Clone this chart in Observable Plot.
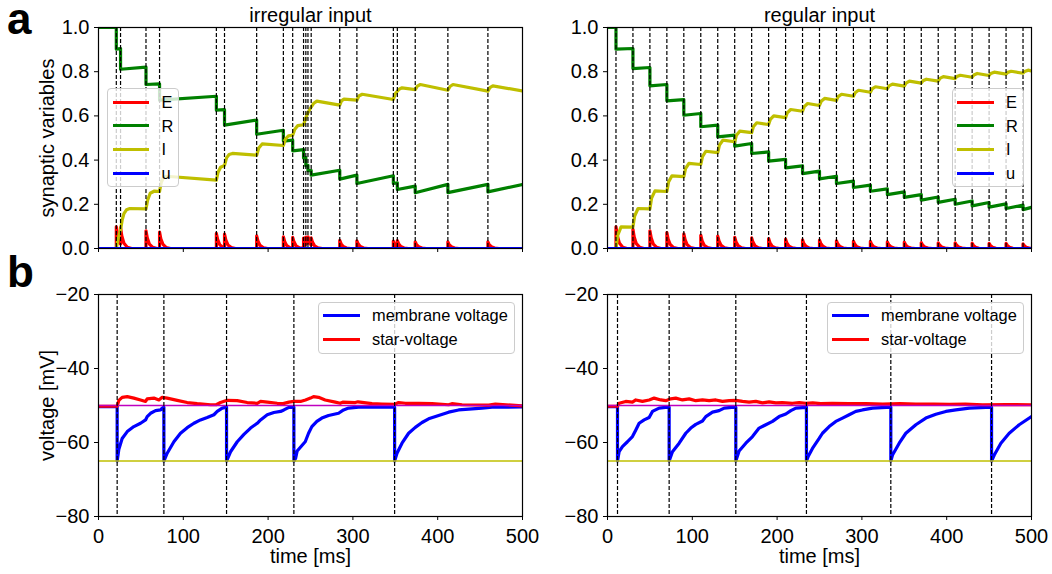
<!DOCTYPE html>
<html><head><meta charset="utf-8">
<script src="https://cdn.jsdelivr.net/npm/d3@7"></script>
<script src="https://cdn.jsdelivr.net/npm/@observablehq/plot@0.6"></script>
<style>
body{margin:0;background:#fff;font-family:"Liberation Sans",Arial,Helvetica,sans-serif;}
#fig{position:relative;width:1052px;height:574px;overflow:hidden;background:#fff;}
.legend{position:absolute;background:rgba(255,255,255,0.8);border:1px solid #cccccc;border-radius:4px;box-sizing:border-box;}
.legend .ln{position:absolute;height:3px;}
.legend .lt{position:absolute;font-size:16.4px;line-height:16.4px;white-space:nowrap;color:#000;}
.letter{position:absolute;font-weight:bold;font-size:44px;line-height:36px;color:#000;}
</style></head>
<body><div id="fig"></div>
<script>
// ---------------- data ----------------
const xTicks = [0, 100, 200, 300, 400, 500];
const synTicks = [0, 0.2, 0.4, 0.6, 0.8, 1.0];
const voltTicks = [-80, -60, -40, -20];
const panelTitles = ["irregular input", "regular input"];
const synLabels = ["E", "R", "I", "u"];
const voltLabels = ["membrane voltage", "star-voltage"];
const vThreshold = [-50];
const vReset = [-65];

// input spike times (ms)
const irrSpikes = [21, 26, 56, 72, 139, 148.6, 186.5, 218, 229, 241.8, 244.5, 247, 250.8, 284.5, 304.7, 347.7, 352.4, 373.5, 412, 459.2];
const regSpikes = [10, 30, 50, 70, 90, 110, 130, 150, 170, 190, 210, 230, 250, 270, 290, 310, 330, 350, 370, 390, 410, 430, 450, 470, 490];
// output spike times (ms)
const irrOut = [22, 77.1, 151, 230.4, 349.2];
const regOut = [11.8, 72.7, 151.3, 234.6, 334.1, 452.9];

// synaptic variables, irregular input
const irrE = [
[0,0],
[21,0],[21,.098],[22.5,.059],[25,.025],[26,.02],
[26,.095],[27.5,.057],[30,.024],[34,.006],[39,0],
[56,0],[56,.080],[57.5,.048],[60,.020],[64,.005],[69,0],
[72,0],[72,.074],[73.5,.044],[76,.019],[80,.004],[85,0],
[139,0],[139,.068],[140.5,.041],[143,.017],[147,.004],[148.6,.002],
[148.6,.065],[150.1,.039],[152.6,.016],[156.6,.004],[161.6,0],
[186.5,0],[186.5,.057],[188,.034],[190.5,.014],[194.5,.003],[199.5,0],
[218,0],[218,.053],[219.5,.032],[222,.013],[226,.003],[229,.001],
[229,.050],[230.5,.030],[233,.012],[237,.003],[241.8,.001],
[241.8,.047],[243.3,.028],[244.5,.019],
[244.5,.052],[246,.031],[247,.024],
[247,.053],[248.5,.032],[250.8,.015],
[250.8,.048],[252.3,.029],[254.8,.012],[258.8,.003],[263.8,0],
[284.5,0],[284.5,.037],[286,.022],[288.5,.009],[292.5,.002],[297.5,0],
[304.7,0],[304.7,.035],[306.2,.021],[308.7,.009],[312.7,.002],[317.7,0],
[347.7,0],[347.7,.034],[349.2,.020],[351.7,.009],[352.4,.007],
[352.4,.036],[353.9,.022],[356.4,.009],[360.4,.002],[365.4,0],
[373.5,0],[373.5,.030],[375,.018],[377.5,.008],[381.5,.002],[386.5,0],
[412,0],[412,.030],[413.5,.018],[416,.008],[420,.002],[425,0],
[459.2,0],[459.2,.030],[460.7,.018],[463.2,.008],[467.2,.002],[472.2,0],
[500,0]
];
const irrR = [[0,1],[21,1],[21,0.902],[26,0.905],[26,0.811],[56,0.821],[56,0.742],[72,0.745],[72,0.671],[139,0.689],[139,0.626],[148.6,0.628],[148.6,0.558],[186.5,0.581],[186.5,0.517],[218,0.535],[218,0.486],[229,0.49],[229,0.442],[241.8,0.447],[241.8,0.41],[244.5,0.411],[244.5,0.375],[247,0.376],[247,0.352],[250.8,0.353],[250.8,0.332],[284.5,0.354],[284.5,0.314],[304.7,0.332],[304.7,0.294],[347.7,0.329],[347.7,0.294],[352.4,0.297],[352.4,0.267],[373.5,0.282],[373.5,0.252],[412,0.29],[412,0.253],[459.2,0.29],[459.2,0.256],[500,0.29]];
const irrI = [[0,0],[21,0],[23,0.04],[24.5,0.065],[26,0.085],[28,0.13],[30,0.158],[33,0.175],[37,0.181],[56,0.179],[58,0.22],[61,0.25],[66,0.26],[72,0.258],[74,0.30],[76.5,0.32],[80,0.327],[139,0.309],[141,0.345],[144,0.368],[148.6,0.376],[151,0.41],[154,0.425],[158,0.43],[186.5,0.422],[189,0.455],[193,0.473],[218,0.466],[220.5,0.495],[224,0.51],[229,0.512],[231.5,0.54],[235,0.556],[241.8,0.56],[244.5,0.59],[247,0.615],[250.8,0.64],[253.5,0.656],[257.5,0.667],[284.5,0.649],[286.5,0.668],[289.5,0.676],[304.7,0.671],[307,0.69],[311,0.698],[347.7,0.674],[350,0.70],[352.4,0.712],[355,0.722],[358,0.727],[373.5,0.719],[376,0.735],[379.5,0.742],[412,0.716],[414.5,0.733],[418,0.742],[459.2,0.712],[461.5,0.728],[465,0.736],[500,0.713]];
const irrU = [[0,0],[500,0]];

// synaptic variables, regular input
const regE = [
[0,0],
[10,0],[10,.098],[11.5,.059],[14,.025],[18,.006],[23,0],
[30,0],[30,.087],[31.5,.052],[34,.022],[38,.005],[43,0],
[50,0],[50,.080],[51.5,.048],[54,.020],[58,.005],[63,0],
[70,0],[70,.072],[71.5,.043],[74,.018],[78,.004],[83,0],
[90,0],[90,.066],[91.5,.040],[94,.017],[98,.004],[103,0],
[110,0],[110,.060],[111.5,.036],[114,.015],[118,.004],[123,0],
[130,0],[130,.056],[131.5,.034],[134,.014],[138,.003],[143,0],
[150,0],[150,.051],[151.5,.031],[154,.013],[158,.003],[163,0],
[170,0],[170,.048],[171.5,.029],[174,.012],[178,.003],[183,0],
[190,0],[190,.045],[191.5,.027],[194,.011],[198,.003],[203,0],
[210,0],[210,.042],[211.5,.025],[214,.011],[218,.003],[223,0],
[230,0],[230,.039],[231.5,.023],[234,.010],[238,.002],[243,0],
[250,0],[250,.038],[251.5,.023],[254,.010],[258,.002],[263,0],
[270,0],[270,.035],[271.5,.021],[274,.009],[278,.002],[283,0],
[290,0],[290,.033],[291.5,.020],[294,.008],[298,.002],[303,0],
[310,0],[310,.032],[311.5,.019],[314,.008],[318,.002],[323,0],
[330,0],[330,.030],[331.5,.018],[334,.008],[338,.002],[343,0],
[350,0],[350,.029],[351.5,.017],[354,.007],[358,.002],[363,0],
[370,0],[370,.027],[371.5,.016],[374,.007],[378,.002],[383,0],
[390,0],[390,.026],[391.5,.016],[394,.007],[398,.002],[403,0],
[410,0],[410,.026],[411.5,.016],[414,.007],[418,.002],[423,0],
[430,0],[430,.024],[431.5,.014],[434,.006],[438,.001],[443,0],
[450,0],[450,.023],[451.5,.014],[454,.006],[458,.001],[463,0],
[470,0],[470,.023],[471.5,.014],[474,.006],[478,.001],[483,0],
[490,0],[490,.021],[491.5,.013],[494,.005],[498,.001],[500,0]
];
const regR = [[0,1],[10,1],[10,0.902],[30,0.905],[30,0.814],[50,0.819],[50,0.736],[70,0.742],[70,0.668],[90,0.674],[90,0.603],[110,0.611],[110,0.551],[130,0.558],[130,0.505],[150,0.513],[150,0.463],[170,0.475],[170,0.43],[190,0.437],[190,0.395],[210,0.403],[210,0.365],[230,0.374],[230,0.339],[250,0.35],[250,0.315],[270,0.327],[270,0.294],[290,0.305],[290,0.276],[310,0.287],[310,0.259],[330,0.27],[330,0.244],[350,0.256],[350,0.231],[370,0.244],[370,0.219],[390,0.233],[390,0.209],[410,0.223],[410,0.2],[430,0.215],[430,0.193],[450,0.208],[450,0.187],[470,0.202],[470,0.181],[490,0.196],[490,0.176],[500,0.186]];
const regI = [[0,0],[10,0],[12,0.059],[16,0.098],[30,0.097],[32,0.147],[36,0.181],[50,0.179],[52,0.228],[56,0.261],[70,0.258],[72,0.301],[76,0.329],[90,0.325],[92,0.361],[96,0.385],[110,0.38],[112,0.416],[116,0.44],[130,0.434],[132,0.468],[136,0.49],[150,0.483],[152,0.512],[156,0.531],[170,0.524],[172,0.551],[176,0.569],[190,0.561],[192,0.584],[196,0.6],[210,0.592],[212,0.614],[216,0.629],[230,0.621],[232,0.642],[236,0.656],[250,0.647],[252,0.666],[256,0.679],[270,0.67],[272,0.687],[276,0.698],[290,0.689],[292,0.705],[296,0.716],[310,0.707],[312,0.722],[316,0.732],[330,0.723],[332,0.736],[336,0.744],[350,0.735],[352,0.748],[356,0.757],[370,0.748],[372,0.759],[376,0.766],[390,0.757],[392,0.77],[396,0.778],[410,0.769],[412,0.778],[416,0.784],[430,0.775],[432,0.785],[436,0.792],[450,0.783],[452,0.792],[456,0.798],[470,0.789],[472,0.797],[476,0.802],[490,0.793],[492,0.801],[496,0.807],[500,0.803]];
const regU = [[0,0],[500,0]];

// voltages (mV)
const irrV = [[0,-50.3],[22,-50.3],[22,-65],[24,-61.8],[27.9,-58.9],[33.9,-57.05],[41.7,-55.7],[49.6,-54.8],[55.5,-53.9],[57.4,-53.0],[61.4,-52.1],[67.3,-51.4],[73.2,-51.2],[75.1,-50.7],[77.1,-50.45],
[77.1,-65],[81,-62.9],[88.9,-59.8],[96.7,-57.5],[104.6,-56.0],[112.5,-54.8],[120.3,-53.9],[128.2,-53.25],[136.1,-52.5],[140,-51.6],[145.9,-50.7],[151,-50.45],
[151,-65],[155.7,-62.5],[163.6,-59.8],[171.5,-57.8],[179.3,-56.1],[187.2,-54.8],[191.1,-53.9],[199,-52.5],[206.8,-51.9],[214.7,-51.6],[218.6,-51.2],[224.5,-50.5],[230.4,-50.45],
[230.4,-65],[232.4,-64.3],[234.3,-62.3],[242.2,-60.2],[243.8,-59.8],[247.7,-57.5],[251.6,-55.7],[257.5,-54.3],[263.4,-53.4],[271.3,-52.7],[283.1,-52.1],[289,-51.2],[294.9,-50.7],[306.7,-50.45],[349.2,-50.45],
[349.2,-65],[352,-62.9],[357.9,-60.2],[365.7,-57.5],[373.6,-55.9],[381.5,-54.6],[389.3,-53.6],[401.1,-52.7],[412.9,-51.8],[424.7,-51.2],[440.5,-50.9],[452.3,-50.7],[464.1,-50.45],[500,-50.4]];
const irrStar = [[0,-50.2],[22,-50.2],[24,-48.6],[27.9,-47.8],[33.9,-47.6],[41.7,-48.0],[49.6,-48.5],[55.5,-48.9],[57.4,-48.2],[65.3,-48.0],[71.2,-48.5],[75.1,-47.8],[81,-48.0],[92.8,-48.6],[104.6,-49.2],[116.4,-49.5],[132.1,-49.8],[138.8,-49.8],[143.9,-49.2],[151.8,-48.6],[163.6,-48.7],[175.4,-49.2],[187.2,-49.4],[191.1,-48.9],[199,-49.1],[210.8,-49.4],[217.8,-49.5],[224.5,-49.1],[230.4,-48.9],[238.2,-48.9],[244.1,-48.5],[250,-48.0],[253.6,-47.6],[259.5,-47.8],[267.3,-48.5],[279.2,-49.1],[285,-49.4],[288,-49.1],[302.8,-49.2],[306,-49.0],[322.5,-49.5],[334.3,-49.6],[349.2,-49.7],[353.9,-49.2],[361.8,-49.4],[377.5,-49.4],[393.3,-49.5],[412.9,-49.8],[416.8,-49.5],[428.7,-49.8],[460.2,-49.9],[468,-49.6],[500,-50.1]];
const regV = [[0,-50.3],[11.8,-50.3],[11.8,-65],[13.7,-62.5],[17.6,-61.1],[23.5,-59.8],[29.4,-58.4],[33.4,-56.6],[37.3,-54.8],[43.2,-53.9],[49.1,-53.25],[53,-51.6],[60.9,-50.7],[70.7,-50.45],[72.7,-50.45],
[72.7,-65],[76.6,-62.5],[84.5,-60.2],[92.3,-57.5],[98.2,-56.1],[104.1,-55.1],[112,-54.2],[115.9,-53.0],[123.8,-51.8],[131.6,-51.4],[137.6,-50.7],[149.3,-50.45],[151.3,-50.45],
[151.3,-65],[155.2,-62.3],[163.1,-60.2],[171,-58.4],[178.8,-56.1],[186.7,-55.2],[194.6,-54.3],[202.4,-53.0],[210.3,-52.3],[216.2,-51.4],[222.1,-50.7],[233.9,-50.5],[234.6,-50.45],
[234.6,-65],[236.6,-63.8],[241.7,-61.6],[249.6,-58.9],[253.5,-57.5],[261.4,-55.7],[269.2,-54.3],[277.1,-53.4],[285,-52.5],[292.8,-51.6],[300.7,-51.2],[312.5,-50.7],[334.1,-50.45],
[334.1,-65],[336.1,-63.4],[344,-60.2],[351.8,-57.5],[363.6,-55.2],[375.4,-53.4],[387.2,-52.35],[399,-51.6],[410.8,-51.2],[426.6,-50.7],[452.9,-50.45],
[452.9,-65],[456.1,-63.4],[463.9,-60.2],[473.7,-57.5],[485.5,-55.2],[500,-53.0]];
const regStar = [[0,-50.2],[11.8,-50.2],[13.7,-49.4],[21.5,-48.9],[29.4,-49.1],[33.4,-48.5],[41.2,-48.9],[49.1,-48.5],[55,-48.0],[62.9,-48.5],[68.8,-48.7],[74.6,-48.2],[80.5,-48.0],[88.4,-48.5],[96.3,-48.2],[104.1,-48.7],[112,-48.5],[119.9,-48.7],[127.7,-48.5],[135.6,-48.9],[143.5,-48.7],[151.3,-48.6],[159.2,-48.9],[167,-49.1],[174.9,-48.9],[182.8,-49.3],[190.6,-49.0],[198.5,-49.3],[206.3,-49.2],[218.1,-49.4],[226,-49.2],[233.9,-49.4],[242,-49.3],[251.5,-49.5],[265,-49.4],[285,-49.5],[305,-49.5],[324.7,-49.6],[345,-49.5],[363.6,-49.6],[385,-49.6],[402.9,-49.7],[422,-49.65],[442.3,-49.8],[470,-49.75],[500,-49.8]];

// ---------------- drawing ----------------
const FONT = '"Liberation Sans", Arial, Helvetica, sans-serif';
const C = {E:"#ff0000", R:"#008000", I:"#bfbf00", u:"#0000ff", v:"#0000ff", star:"#ff0000", thr:"#bf00bf", reset:"#bfbf00"};
const fig = document.getElementById("fig");

function curve(data, color) {
  return Plot.line(data, {x: d => d[0], y: d => d[1], stroke: color, strokeWidth: 3.2, clip: true, strokeLinejoin: "round"});
}

function addPlot(p) {
  const marks = [
    ...p.curves,
    Plot.ruleX(p.spikes, {x: d => d, stroke: "black", strokeWidth: 1.2, strokeDasharray: "4,2"}),
    Plot.frame({stroke: "black", strokeWidth: 1.2}),
    Plot.axisX({ticks: xTicks, tickSize: 4, tickPadding: 8, label: null,
      tickFormat: p.xLabels ? d3.format("d") : () => ""}),
    Plot.axisY({ticks: p.yTicks, tickSize: 4, tickPadding: 5, label: null, tickFormat: p.yFormat})
  ];
  if (p.title) marks.push(Plot.text([p.title], {text: d => d, frameAnchor: "top", dy: -12, lineAnchor: "middle", textAnchor: "middle", fontSize: 20}));
  if (p.yLabel) marks.push(Plot.text([p.yLabel], {text: d => d, frameAnchor: "left", rotate: -90, dx: -51, lineAnchor: "middle", textAnchor: "middle", fontSize: 20}));
  if (p.xLabel) marks.push(Plot.text([p.xLabel], {text: d => d, frameAnchor: "bottom", dy: 40, lineAnchor: "middle", textAnchor: "middle", fontSize: 20}));
  const svg = Plot.plot({
    width: p.width, height: p.height,
    marginLeft: p.mL, marginRight: p.mR, marginTop: p.mT, marginBottom: p.mB,
    x: {domain: [0, 500]},
    y: {domain: p.yDomain},
    style: {fontFamily: FONT, fontSize: "20px", color: "black", background: "transparent", overflow: "visible"},
    marks
  });
  svg.style.position = "absolute";
  svg.style.left = p.left + "px";
  svg.style.top = p.top + "px";
  fig.appendChild(svg);
}

function addLegend(labels, colors, box) {
  const div = document.createElement("div");
  div.className = "legend";
  Object.assign(div.style, {left: box.left + "px", top: box.top + "px", width: box.w + "px", height: box.h + "px"});
  labels.forEach((lab, i) => {
    const cy = box.row0 + i * box.step;
    const ln = document.createElement("div");
    ln.className = "ln";
    Object.assign(ln.style, {left: box.lineX + "px", top: (cy - 1.5) + "px", width: "36.6px", background: colors[i]});
    const tx = document.createElement("div");
    tx.className = "lt";
    tx.textContent = lab;
    Object.assign(tx.style, {left: box.textX + "px", top: (cy - 8.2) + "px"});
    div.appendChild(ln); div.appendChild(tx);
  });
  fig.appendChild(div);
}

const synColors = [C.E, C.R, C.I, C.u];
const voltColors = [C.v, C.star];

// top-left
addPlot({left: 0, top: 0, width: 530, height: 270, mL: 98, mR: 8, mT: 27, mB: 22,
  yDomain: [0, 1], yTicks: synTicks, yFormat: d3.format(".1f"), xLabels: false,
  title: panelTitles[0], yLabel: "synaptic variables", spikes: irrSpikes,
  curves: [curve(irrE, C.E), curve(irrR, C.R), curve(irrI, C.I), curve(irrU, C.u)]});
// top-right
addPlot({left: 530, top: 0, width: 522, height: 270, mL: 77, mR: 21, mT: 27, mB: 22,
  yDomain: [0, 1], yTicks: synTicks, yFormat: d3.format(".1f"), xLabels: false,
  title: panelTitles[1], spikes: regSpikes,
  curves: [curve(regE, C.E), curve(regR, C.R), curve(regI, C.I), curve(regU, C.u)]});
// bottom-left
addPlot({left: 0, top: 270, width: 530, height: 304, mL: 98, mR: 8, mT: 24, mB: 58,
  yDomain: [-80, -20], yTicks: voltTicks, yFormat: d3.format("d"), xLabels: true,
  yLabel: "voltage [mV]", xLabel: "time [ms]", spikes: irrOut,
  curves: [curve(irrV, C.v), curve(irrStar, C.star),
    Plot.ruleY(vThreshold, {y: d => d, stroke: C.thr, strokeWidth: 1.3}),
    Plot.ruleY(vReset, {y: d => d, stroke: C.reset, strokeWidth: 1.3})]});
// bottom-right
addPlot({left: 530, top: 270, width: 522, height: 304, mL: 77, mR: 21, mT: 24, mB: 58,
  yDomain: [-80, -20], yTicks: voltTicks, yFormat: d3.format("d"), xLabels: true,
  xLabel: "time [ms]", spikes: regOut,
  curves: [curve(regV, C.v), curve(regStar, C.star),
    Plot.ruleY(vThreshold, {y: d => d, stroke: C.thr, strokeWidth: 1.3}),
    Plot.ruleY(vReset, {y: d => d, stroke: C.reset, strokeWidth: 1.3})]});

addLegend(synLabels, synColors, {left: 107, top: 88, w: 72, h: 99, row0: 13, step: 23.7, lineX: 4.5, textX: 53.5});
addLegend(synLabels, synColors, {left: 951.5, top: 88, w: 72, h: 99, row0: 13, step: 23.7, lineX: 4.5, textX: 53.5});
addLegend(voltLabels, voltColors, {left: 317.5, top: 301.5, w: 197, h: 52, row0: 12.7, step: 24, lineX: 4.5, textX: 53.5});
addLegend(voltLabels, voltColors, {left: 826.5, top: 301.5, w: 197, h: 52, row0: 12.7, step: 24, lineX: 4.5, textX: 53.5});

[["a", 1], ["b", 254]].forEach(([t, top]) => {
  const d = document.createElement("div");
  d.className = "letter";
  d.textContent = t;
  d.style.left = "7px";
  d.style.top = top + "px";
  fig.appendChild(d);
});
</script>
</body></html>
